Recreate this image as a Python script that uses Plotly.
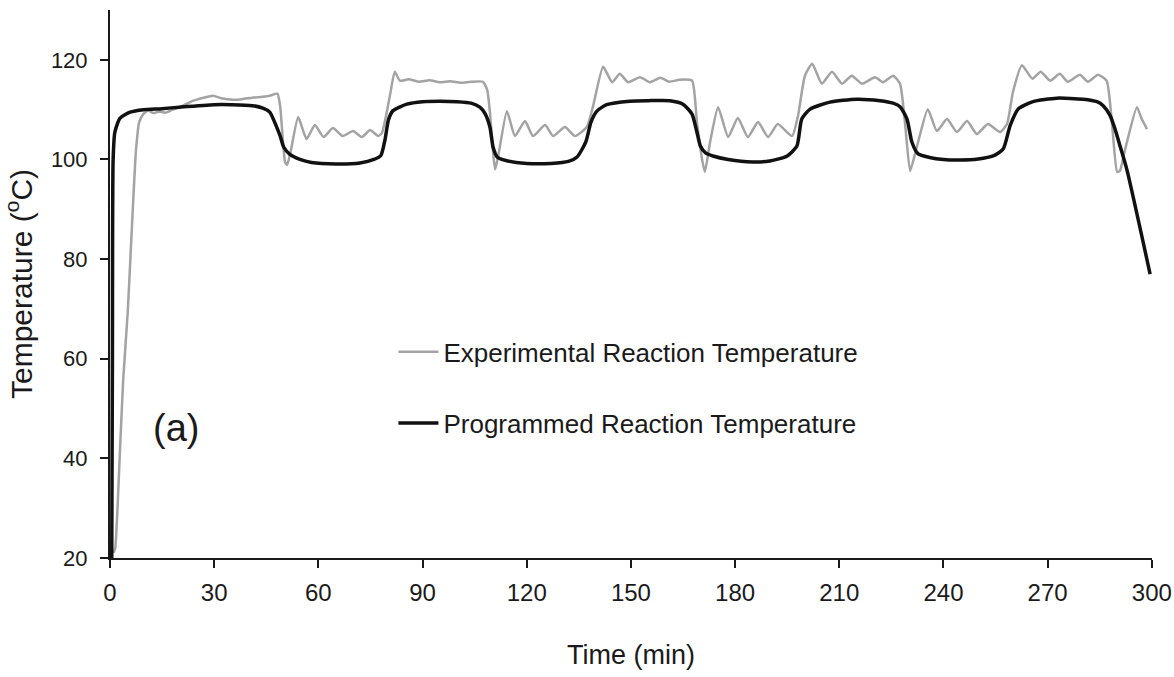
import plotly.graph_objects as go

# Programmed (set-point) reaction temperature, time in min / temperature in °C
prog_time = [0.5, 0.7, 0.9, 1.4, 2.9, 5.8, 9.6, 15, 20, 30, 35, 41, 44, 46, 48, 49, 50, 51.8,
             54.7, 58, 65, 72, 76, 78, 79.2, 80.2, 81.5, 85.5, 90, 95, 100, 104, 106.5, 108,
             109.4, 110.3, 111.5, 114, 120, 127, 132, 134.5, 137, 138.5, 140.2, 143, 149.7,
             155, 161.2, 165, 167.6, 169, 170, 171.5, 173.6, 178, 185, 190, 195, 197.8,
             199.2, 201.6, 207.3, 215, 221.7, 225.5, 227.5, 229.5, 230.9, 232.7, 236, 240,
             244.7, 250, 254.3, 257.2, 259.2, 261.5, 265.8, 272.6, 280.2, 284.2, 286, 288,
             289.4, 290.8, 292.8, 299.5]
prog_temp = [20, 60, 100, 105.5, 108.3, 109.5, 110.0, 110.2, 110.5, 111.0, 111.0, 110.8,
             110.3, 109.5, 106.5, 104.7, 102.5, 101.0, 100.0, 99.4, 99.1, 99.3, 100.0, 100.8,
             104.0, 108.0, 109.8, 111.1, 111.6, 111.7, 111.6, 111.3, 110.5, 109.2, 106.5,
             102.5, 100.5, 99.8, 99.2, 99.2, 99.6, 100.5, 103.5, 107.5, 109.7, 111.0, 111.7,
             111.8, 111.8, 111.1, 109.1, 105.5, 102.7, 101.3, 100.7, 100.0, 99.5, 99.7, 100.7,
             102.7, 108.1, 110.1, 111.5, 112.1, 111.8, 111.3, 110.6, 108.1, 103.5, 101.1,
             100.4, 100.0, 99.9, 100.1, 100.7, 102.1, 106.8, 110.1, 111.6, 112.3, 112.1,
             111.6, 110.8, 108.8, 106.1, 102.8, 98.0, 77.0]

# Measured (experimental) reaction temperature
exp_time = [1.0, 1.5, 2.9, 3.8, 5.1, 6.0, 6.7, 7.5, 8.4, 9.6, 11, 12.5, 14, 16, 18, 20.7, 24,
            27, 29.7, 32, 35.5, 38, 41, 44, 46, 48.2, 49.0, 50.4, 51.0, 52.0, 54.2, 56.6, 59.0,
            61.5, 64.2, 67.0, 70.0, 72.5, 74.9, 77.2, 78.3, 80.6, 82.0, 83.5, 86, 89, 92, 95,
            98, 101, 104, 107.4, 108.6, 109.4, 110.4, 110.9, 111.8, 114.3, 116.6, 119.5,
            121.8, 125.3, 127.6, 131.0, 133.9, 137.3, 139.1, 142.0, 144.6, 146.8, 149.2,
            152.6, 155.5, 158.5, 161, 164, 167.6, 169.0, 170.5, 171.3, 172.8, 175.1, 178.0,
            180.8, 183.7, 186.6, 189.5, 192.3, 196.4, 198.1, 200.1, 202.2, 205.0, 207.9,
            210.8, 213.6, 216.5, 220.3, 222.6, 225.5, 227.5, 228.9, 230.4, 232.4, 235.5,
            238.1, 241.0, 243.9, 246.8, 249.6, 252.8, 256.3, 258.3, 260.0, 262.6, 265.6,
            268.0, 270.7, 273.5, 275.8, 279.3, 281.6, 284.5, 287.0, 288.5, 290.0, 290.8,
            292.3, 295.7, 297.1, 298.6]
exp_temp = [21, 22, 42, 55.8, 69.3, 82, 92, 102, 107.5, 109.1, 109.8, 109.3, 109.6, 109.4,
            110.0, 110.7, 111.8, 112.4, 112.8, 112.3, 112.0, 112.1, 112.4, 112.6, 112.8,
            113.2, 110.7, 99.5, 98.9, 101.5, 108.5, 104.1, 106.9, 104.5, 106.3, 104.7, 105.7,
            104.5, 105.9, 104.7, 105.3, 112.8, 117.6, 115.8, 116.1, 115.6, 115.9, 115.5,
            115.7, 115.4, 115.6, 115.6, 114.0, 109.5, 100.7, 98.0, 100.7, 109.7, 104.7, 107.7,
            104.7, 106.9, 104.7, 106.5, 104.7, 106.5, 110.7, 118.6, 115.5, 117.2, 115.5,
            116.5, 115.5, 116.4, 115.6, 116.0, 115.8, 107.5, 100.0, 97.5, 103.5, 110.5, 104.5,
            108.3, 104.5, 107.5, 104.5, 107.1, 104.7, 108.7, 116.8, 119.2, 115.2, 117.6,
            115.2, 116.8, 115.2, 116.5, 115.5, 116.8, 115.2, 107.5, 97.7, 102.7, 110.1, 105.7,
            108.1, 105.5, 107.7, 105.1, 107.1, 105.5, 107.1, 113.5, 118.9, 116.2, 117.6,
            115.8, 117.2, 115.6, 117.0, 115.6, 117.0, 115.8, 107.5, 97.5, 97.7, 102.0, 110.5,
            108.1, 106.1]

x_ticks = [0, 30, 60, 90, 120, 150, 180, 210, 240, 270, 300]
y_ticks = [20, 40, 60, 80, 100, 120]

SANS = "Liberation Sans, Arial, sans-serif"
INK = "#1a1a1a"

fig = go.Figure()
fig.add_trace(go.Scatter(
    x=exp_time, y=exp_temp, mode="lines", name="Experimental Reaction Temperature",
    line=dict(color="#a3a3a3", width=2.5, shape="spline", smoothing=0.5),
    legend="legend", showlegend=True,
))
fig.add_trace(go.Scatter(
    x=prog_time, y=prog_temp, mode="lines", name="Programmed Reaction Temperature",
    line=dict(color="#111111", width=3.5, shape="spline", smoothing=0.6),
    legend="legend2", showlegend=True,
))

axis_common = dict(
    showline=True, linecolor=INK, linewidth=2, ticks="outside", ticklen=8, tickwidth=1.5,
    tickcolor=INK, showgrid=False, zeroline=False, mirror=False, automargin=False,
)

legend_common = dict(
    font=dict(family=SANS, size=26, color=INK), bgcolor="rgba(0,0,0,0)",
    borderwidth=0, xanchor="left", yanchor="middle", itemwidth=40, visible=True,
)

fig.update_layout(
    width=1174, height=677,
    margin=dict(l=110, r=22, t=10, b=119),
    paper_bgcolor="white", plot_bgcolor="white",
    showlegend=True,
    xaxis=dict(
        range=[0, 300.05], tickvals=x_ticks, ticktext=[str(v) for v in x_ticks],
        tickfont=dict(family=SANS, size=24, color=INK), ticklabelstandoff=4,
        ticklabeloverflow="allow",
        title=dict(text="Time (min)", font=dict(family=SANS, size=27, color=INK), standoff=40),
        **axis_common,
    ),
    yaxis=dict(
        range=[20, 130], tickvals=y_ticks, ticktext=[str(v) for v in y_ticks],
        tickfont=dict(family=SANS, size=22, color=INK), ticklabelstandoff=8,
        title=dict(text="Temperature (<sup>o</sup>C)", font=dict(family=SANS, size=30, color=INK),
                   standoff=10),
        **axis_common,
    ),
    legend=dict(x=0.272, y=0.376, **legend_common),
    legend2=dict(x=0.272, y=0.246, **legend_common),
    annotations=[dict(
        x=19, y=46, xref="x", yref="y", text="(a)", showarrow=False,
        font=dict(family=SANS, size=38, color=INK),
    )],
)

fig.write_html("out.html")
